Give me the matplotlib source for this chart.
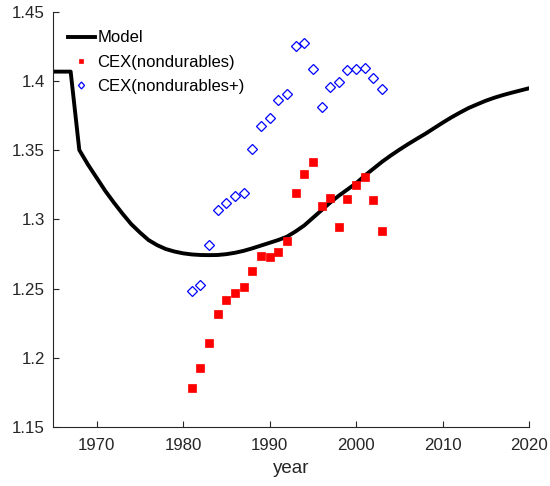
import matplotlib
matplotlib.use("Agg")
import matplotlib.pyplot as plt
from matplotlib.markers import MarkerStyle
from matplotlib.transforms import Affine2D

plt.rcParams['font.family'] = ['Liberation Sans', 'DejaVu Sans']

model_years = list(range(1965, 2021))
model_vals = [1.4066, 1.4066, 1.4066, 1.350, 1.3395, 1.330, 1.3205, 1.312, 1.304,
              1.2965, 1.2905, 1.285, 1.2813, 1.2785, 1.2767, 1.2754, 1.2746, 1.2742,
              1.2741, 1.2742, 1.2748, 1.2758, 1.2772, 1.279, 1.281, 1.283, 1.285,
              1.2874, 1.2912, 1.2955, 1.301, 1.3065, 1.312, 1.317, 1.3215, 1.326,
              1.3315, 1.3365, 1.3415, 1.346, 1.3502, 1.3542, 1.358, 1.3617, 1.3657,
              1.3697, 1.3735, 1.377, 1.3803, 1.383, 1.3856, 1.3878, 1.3897, 1.3914,
              1.393, 1.3946]

cex_years = list(range(1981, 2004))
cex_nd = [1.1784, 1.1928, 1.2109, 1.2318, 1.2417, 1.2470, 1.2513, 1.2629, 1.2737,
          1.2730, 1.2766, 1.2845, 1.3192, 1.3329, 1.3413, 1.3098, 1.3156, 1.2946,
          1.3146, 1.3250, 1.3307, 1.3141, 1.2917]
cex_ndp = [1.2484, 1.2523, 1.2812, 1.3067, 1.3115, 1.3170, 1.3187, 1.3507, 1.3675,
           1.3733, 1.3861, 1.3902, 1.4251, 1.4270, 1.4087, 1.3813, 1.3957, 1.3991,
           1.4080, 1.4083, 1.4092, 1.4022, 1.3940]

xticks = [1970, 1980, 1990, 2000, 2010, 2020]
yticks = [1.15, 1.2, 1.25, 1.3, 1.35, 1.4, 1.45]
ytick_labels = ['1.15', '1.2', '1.25', '1.3', '1.35', '1.4', '1.45']

fig = plt.figure(figsize=(5.5, 4.86), dpi=100)
ax = fig.add_axes([0.097, 0.1214, 0.865, 0.8549])

ax.plot(model_years, model_vals, color='black', lw=2.8, label='Model')
ax.plot(cex_years, cex_nd, ls='none', marker='s', ms=5.6, mfc='#ff0000',
        mec='#ff0000', mew=0.5, label='CEX(nondurables)')
dmk = MarkerStyle('D', transform=Affine2D().scale(0.88, 1.0))
ax.plot(cex_years, cex_ndp, ls='none', marker=dmk, ms=5.6, mfc='none',
        mec='#0000ff', mew=0.9, label='CEX(nondurables+)')

ax.set_xlim(1965, 2020)
ax.set_ylim(1.15, 1.45)
ax.set_xticks(xticks)
ax.set_yticks(yticks)
ax.set_yticklabels(ytick_labels)
ax.spines['top'].set_visible(False)
ax.spines['right'].set_visible(False)
for s in ['left', 'bottom']:
    ax.spines[s].set_color('#262626')
    ax.spines[s].set_linewidth(0.8)
ax.tick_params(direction='in', length=4.5, width=0.8, colors='#262626',
               labelsize=12.2)
ax.tick_params(axis='x', pad=8)
ax.tick_params(axis='y', pad=6)
ax.set_xlabel('year', fontsize=13.5, color='#262626', labelpad=5)

leg = ax.legend(loc='upper left', frameon=False, fontsize=12,
                handlelength=1.6, handletextpad=0.15, labelspacing=0.55,
                borderaxespad=0.48, bbox_to_anchor=(0.0, 0.99), markerscale=0.63)
for t in leg.get_texts():
    t.set_color('black')

fig.savefig('out.png', dpi=100)
